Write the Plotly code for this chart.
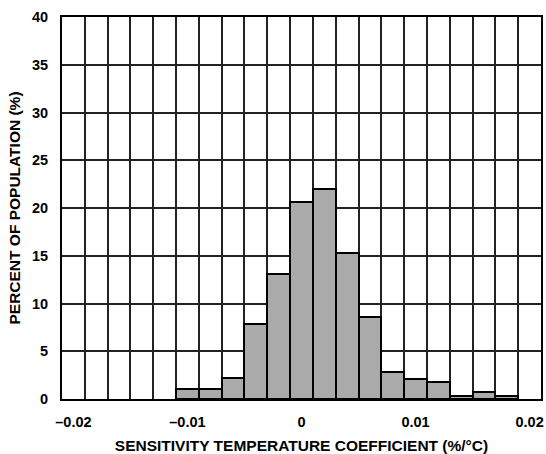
import plotly.graph_objects as go

bin_centers = [-0.010, -0.008, -0.006, -0.004, -0.002, 0.000, 0.002, 0.004,
               0.006, 0.008, 0.010, 0.012, 0.014, 0.016, 0.018]
percent = [1.05, 1.05, 2.15, 7.9, 13.1, 20.65, 22.0, 15.3,
           8.55, 2.85, 2.1, 1.8, 0.35, 0.75, 0.35]
x_tickvals = [-0.02, -0.01, 0.0, 0.01, 0.02]
x_ticktext = ["\u20130.02", "\u20130.01", "0", "0.01", "0.02"]
y_tickvals = [0, 5, 10, 15, 20, 25, 30, 35, 40]

font_family = "Liberation Sans, Arial, sans-serif"

fig = go.Figure(go.Bar(
    x=bin_centers, y=percent, width=0.002,
    marker=dict(color="#aaaaaa", line=dict(color="#000000", width=2)),
))

fig.update_layout(
    width=546, height=454,
    margin=dict(l=62, r=5, t=17, b=55),
    paper_bgcolor="white", plot_bgcolor="white",
    showlegend=False, bargap=0,
    font=dict(family=font_family, color="#000000", size=12),
)
fig.update_xaxes(
    range=[-0.021, 0.021], automargin=False,
    tickvals=x_tickvals, ticktext=x_ticktext,
    tickfont=dict(size=14.5, family=font_family, weight="bold"),
    showgrid=False, zeroline=False,
    minor=dict(tick0=0.001, dtick=0.002, showgrid=True,
               gridcolor="#222222", gridwidth=1.5, ticks=""),
    showline=True, linecolor="#000000", linewidth=2, mirror=True,
    ticks="", ticklabelstandoff=9,
    title=dict(text="<b>SENSITIVITY TEMPERATURE COEFFICIENT (%/°C)</b>",
               font=dict(size=15.5, family=font_family), standoff=12),
)
fig.update_yaxes(
    range=[0, 40], automargin=False,
    tickvals=y_tickvals,
    tickfont=dict(size=14.5, family=font_family, weight="bold"),
    showgrid=True, gridcolor="#222222", gridwidth=1.5, zeroline=False,
    showline=True, linecolor="#000000", linewidth=2, mirror=True,
    ticks="", ticklabelstandoff=9,
    title=dict(text="<b>PERCENT OF POPULATION (%)</b>",
               font=dict(size=15.5, family=font_family), standoff=8),
)

fig.write_html("out.html")
